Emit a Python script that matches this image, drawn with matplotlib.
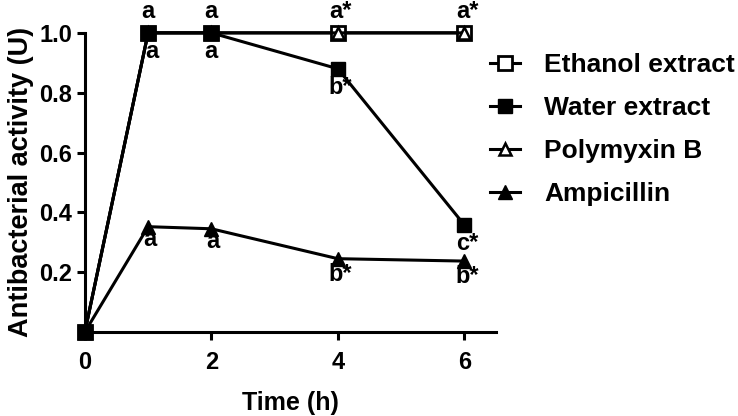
import matplotlib
matplotlib.use('Agg')
import matplotlib.pyplot as plt

plt.rcParams['font.family'] = ['Liberation Sans', 'DejaVu Sans']
plt.rcParams['font.weight'] = 'bold'

# Data
time_h = [0, 1, 2, 4, 6]
ethanol = [0.0, 1.0, 1.0, 1.0, 1.0]
water = [0.0, 1.0, 1.0, 0.88, 0.358]
polymyxin = [0.0, 1.0, 1.0, 1.0, 1.0]
ampicillin = [0.0, 0.352, 0.345, 0.245, 0.237]

# significance letters
top_labels = ['', 'a', 'a', 'a*', 'a*']
water_labels = ['', 'a', 'a', 'b*', 'c*']
amp_labels = ['', 'a', 'a', 'b*', 'b*']

fig = plt.figure(figsize=(7.38, 4.16), dpi=100)
ax = fig.add_axes([0.115, 0.202, 0.557, 0.719])

lw = 2.2
h1, = ax.plot(time_h, ethanol, color='black', lw=lw, marker='s', ms=10,
              mfc='white', mec='black', mew=2, clip_on=False, zorder=3,
              label='Ethanol extract')
h2, = ax.plot(time_h, water, color='black', lw=lw, marker='s', ms=10.5,
              mfc='black', mec='black', clip_on=False, zorder=5,
              label='Water extract')
h3, = ax.plot(time_h, polymyxin, color='black', lw=lw, marker='^', ms=8.5,
              mfc='white', mec='black', mew=1.8, clip_on=False, zorder=4,
              label='Polymyxin B')
h4, = ax.plot(time_h, ampicillin, color='black', lw=lw, marker='^', ms=10,
              mfc='black', mec='black', clip_on=False, zorder=6,
              label='Ampicillin')

fs_ann = 17
for x, y, t in zip(time_h, ethanol, top_labels):
    if t:
        ax.annotate(t, (x, y), xytext=(2 if len(t) > 1 else 0, 7),
                    textcoords='offset points',
                    ha='center', va='bottom', fontsize=fs_ann, fontweight='bold',
                    annotation_clip=False)
for x, y, t in zip(time_h, water, water_labels):
    if t:
        dx = 3 if x == 1 else (2 if len(t) > 1 else 0)
        ax.annotate(t, (x, y), xytext=(dx, -5), textcoords='offset points',
                    ha='center', va='top', fontsize=fs_ann, fontweight='bold',
                    annotation_clip=False, zorder=7)
for x, y, t in zip(time_h, ampicillin, amp_labels):
    if t:
        ax.annotate(t, (x, y), xytext=(2 if len(t) > 1 else 1, -1 if len(t) == 1 else -3),
                    textcoords='offset points',
                    ha='center', va='top', fontsize=fs_ann, fontweight='bold',
                    annotation_clip=False, zorder=7)

ax.set_xlim(0, 6.5)
ax.set_ylim(0, 1.0)
ax.set_xticks([0, 2, 4, 6])
ax.set_yticks([0.2, 0.4, 0.6, 0.8, 1.0])
ax.set_yticklabels(['0.2', '0.4', '0.6', '0.8', '1.0'])
ax.spines['top'].set_visible(False)
ax.spines['right'].set_visible(False)
ax.spines['left'].set_linewidth(2.2)
ax.spines['bottom'].set_linewidth(2.2)
ax.tick_params(width=2.2, length=6, labelsize=17)
ax.tick_params(axis='x', pad=8)
ax.tick_params(axis='y', pad=3)
for lab in ax.get_xticklabels() + ax.get_yticklabels():
    lab.set_fontweight('bold')

ax.set_xlabel('Time (h)', fontsize=18, fontweight='bold', labelpad=12)
ax.set_ylabel('Antibacterial activity (U)', fontsize=19.5, fontweight='bold', labelpad=4)

leg = fig.legend(handles=[h1, h2, h3, h4], loc='upper left',
                 bbox_to_anchor=(0.664, 0.873), frameon=False, borderpad=0,
                 borderaxespad=0,
                 prop={'size': 19, 'weight': 'bold'}, handlelength=1.15,
                 handletextpad=0.9, labelspacing=0.72)
for line in leg.get_lines():
    line.set_linewidth(2.2)

fig.savefig('out.png', dpi=100)
